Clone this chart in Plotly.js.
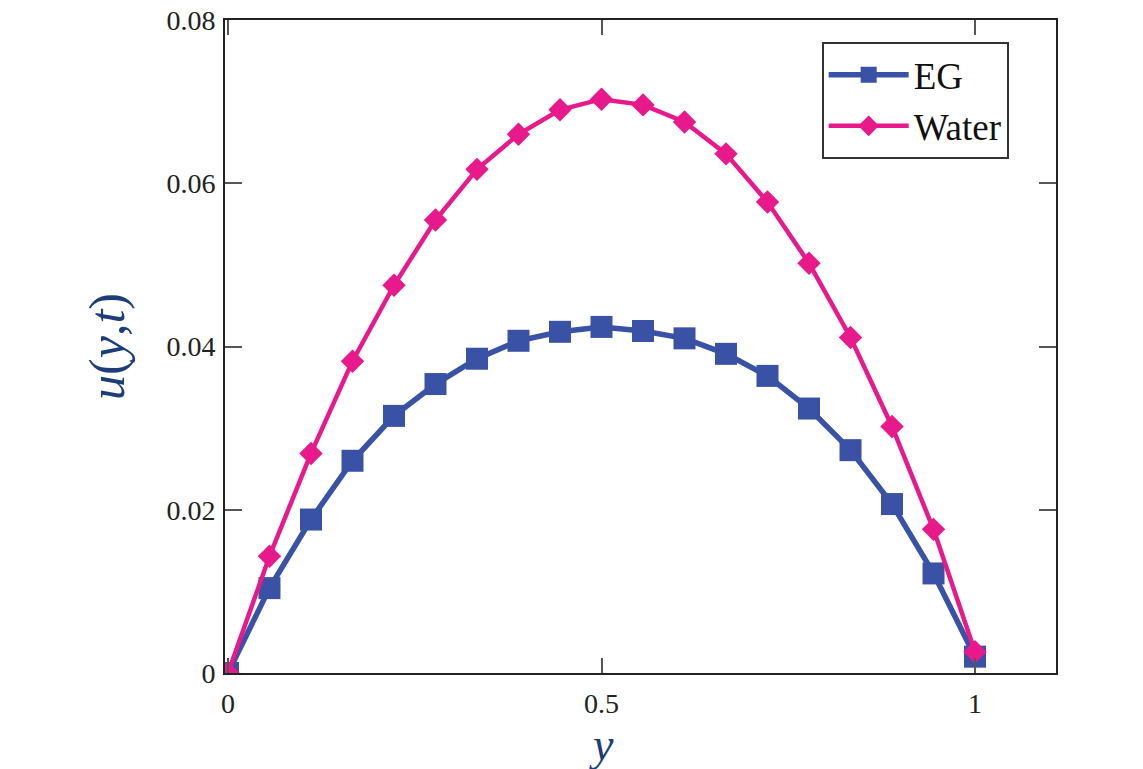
<!DOCTYPE html>
<html>
<head>
<meta charset="utf-8">
<script src="https://cdn.plot.ly/plotly-3.0.1.min.js"></script>
<style>html,body{margin:0;padding:0;background:#fff;}#chart{width:1143px;height:769px;}</style>
</head>
<body>
<div id="chart"></div>
<script>
// y positions: 0 .. 1 in 18 steps
const yPos = [0, 1/18, 2/18, 3/18, 4/18, 5/18, 6/18, 7/18, 8/18, 9/18, 10/18, 11/18, 12/18, 13/18, 14/18, 15/18, 16/18, 17/18, 1];
const egValues = [0, 0.0104, 0.0188, 0.0260, 0.0315, 0.0354, 0.0385, 0.0407, 0.0418, 0.0424, 0.0419, 0.0410, 0.0391, 0.0364, 0.0324, 0.0273, 0.0207, 0.0122, 0.0020];
const waterValues = [0, 0.0143, 0.0269, 0.0382, 0.0475, 0.0555, 0.0617, 0.0660, 0.0690, 0.0703, 0.0696, 0.0675, 0.0636, 0.0577, 0.0502, 0.0411, 0.0302, 0.0176, 0.0026];
const xTickVals = [0, 0.5, 1];
const xTickText = ['0', '0.5', '1'];
const yTickVals = [0, 0.02, 0.04, 0.06, 0.08];
const yTickText = ['0', '0.02', '0.04', '0.06', '0.08'];

const serif = 'Liberation Serif, Times New Roman, serif';
const titleColor = '#1c3d78';

const traces = [
  {
    x: yPos, y: egValues, name: 'EG', type: 'scatter', mode: 'lines+markers',
    line: {color: '#3a52a5', width: 5.5},
    marker: {symbol: 'square', size: 22, color: '#3a52a5'}
  },
  {
    x: yPos, y: waterValues, name: 'Water', type: 'scatter', mode: 'lines+markers',
    line: {color: '#e8198b', width: 4.5},
    marker: {symbol: 'diamond', size: 18, color: '#e8198b'}
  }
];

const layout = {
  width: 1143, height: 769,
  margin: {l: 225, r: 87, t: 20, b: 96},
  paper_bgcolor: '#fff', plot_bgcolor: '#fff',
  showlegend: true,
  legend: {
    x: 0.718, y: 0.966, xanchor: 'left', yanchor: 'top',
    bgcolor: '#fff', bordercolor: '#333', borderwidth: 2,
    font: {family: serif, size: 37, color: '#111'},
    itemwidth: 80
  },
  xaxis: {
    range: [-0.004, 1.1084],
    tickvals: xTickVals, ticktext: xTickText,
    ticks: 'inside', ticklen: 15, tickwidth: 2, tickcolor: '#555',
    showline: true, linecolor: '#222', linewidth: 2, mirror: 'ticks',
    showgrid: false, zeroline: false,
    tickfont: {family: serif, size: 28, color: '#222'},
    ticklabelstandoff: 4
  },
  yaxis: {
    range: [0, 0.08],
    tickvals: yTickVals, ticktext: yTickText,
    ticks: 'inside', ticklen: 17, tickwidth: 2, tickcolor: '#555',
    showline: true, linecolor: '#222', linewidth: 2, mirror: 'ticks',
    showgrid: false, zeroline: false,
    tickfont: {family: serif, size: 28, color: '#222'},
    ticklabelstandoff: 2,
    title: {text: '<i>u</i>(<i>y</i>,<i>t</i>)', font: {family: serif, size: 50, color: titleColor}, standoff: 26}
  },
  annotations: [
    {
      text: '<i>y</i>', xref: 'x', yref: 'paper', x: 0.5, y: -0.11,
      xanchor: 'center', yanchor: 'middle', showarrow: false,
      font: {family: serif, size: 46, color: titleColor}
    }
  ]
};

Plotly.newPlot('chart', traces, layout, {displayModeBar: false, staticPlot: true});
</script>
</body>
</html>
